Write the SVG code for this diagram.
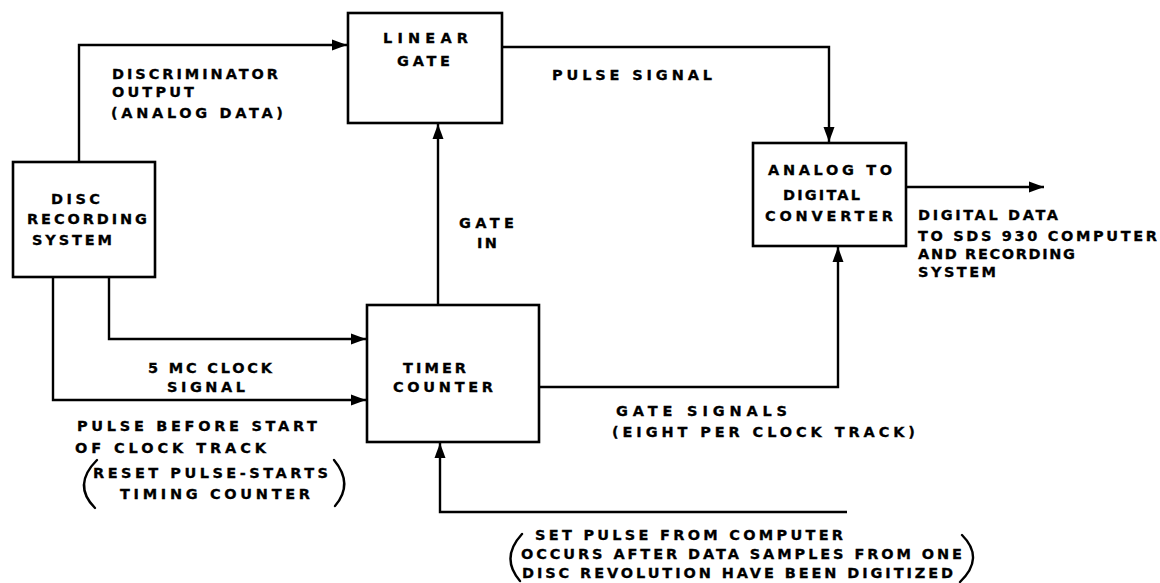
<svg xmlns="http://www.w3.org/2000/svg" width="1160" height="583" viewBox="0 0 1160 583">
<style>
.box{fill:#fff;stroke:#000;stroke-width:2.6}
.ln{fill:none;stroke:#000;stroke-width:2.4}
.par{fill:none;stroke:#000;stroke-width:2.4;stroke-linecap:round}
text{font-family:"DejaVu Sans","Liberation Sans",Arial,sans-serif;font-weight:bold;font-size:14.5px;fill:#000;stroke:#000;stroke-width:0.3}
</style>
<defs>
<marker id="ah" markerUnits="userSpaceOnUse" markerWidth="16" markerHeight="12" refX="15" refY="6" orient="auto">
<path d="M0,0.5 L15,6 L0,11.5 Z" fill="#000"/>
</marker>
</defs>
<rect width="1160" height="583" fill="#fff"/>
<g id="connectors">
<path class="ln" d="M79,162 V45 H347" marker-end="url(#ah)"/>
<path class="ln" d="M502,47 H829 V142" marker-end="url(#ah)"/>
<path class="ln" d="M906,187 H1044" marker-end="url(#ah)"/>
<path class="ln" d="M438,305 V124" marker-end="url(#ah)"/>
<path class="ln" d="M109,277 V339 H366" marker-end="url(#ah)"/>
<path class="ln" d="M53,277 V400 H366" marker-end="url(#ah)"/>
<path class="ln" d="M539,387 H838 V247" marker-end="url(#ah)"/>
<path class="ln" d="M847,512 H440 V443" marker-end="url(#ah)"/>
</g>
<g id="disc">
<rect class="box" x="13" y="162" width="142" height="115"/>
<text x="51" y="204" textLength="49">DISC</text>
<text x="27" y="224" textLength="120">RECORDING</text>
<text x="32" y="245" textLength="80">SYSTEM</text>
</g>
<g id="linear-gate">
<rect class="box" x="348" y="13" width="154" height="110"/>
<text x="383" y="43" textLength="85">LINEAR</text>
<text x="397" y="66" textLength="53">GATE</text>
</g>
<g id="adc">
<rect class="box" x="753" y="143" width="153" height="103"/>
<text x="768" y="175" textLength="124">ANALOG TO</text>
<text x="783" y="200" textLength="77">DIGITAL</text>
<text x="765" y="221" textLength="128">CONVERTER</text>
</g>
<g id="timer-counter">
<rect class="box" x="367" y="305" width="172" height="137"/>
<text x="403" y="373" textLength="63">TIMER</text>
<text x="393" y="392" textLength="100">COUNTER</text>
</g>
<g id="labels">
<text x="112" y="79" textLength="166">DISCRIMINATOR</text>
<text x="112" y="97" textLength="82">OUTPUT</text>
<text x="111" y="118" textLength="172">(ANALOG DATA)</text>
<text x="552" y="80" textLength="160">PULSE SIGNAL</text>
<text x="918" y="220" textLength="140">DIGITAL DATA</text>
<text x="918" y="241" textLength="239">TO SDS 930 COMPUTER</text>
<text x="918" y="259" textLength="157">AND RECORDING</text>
<text x="918" y="277" textLength="78">SYSTEM</text>
<text x="459" y="228" textLength="55">GATE</text>
<text x="477" y="248" textLength="20">IN</text>
<text x="148" y="373" textLength="124">5 MC CLOCK</text>
<text x="167" y="392" textLength="78">SIGNAL</text>
<text x="77" y="431" textLength="240">PULSE BEFORE START</text>
<text x="75" y="453" textLength="191">OF CLOCK TRACK</text>
<text x="93" y="478" textLength="235">RESET PULSE-STARTS</text>
<text x="120" y="499" textLength="190">TIMING COUNTER</text>
<path class="par" d="M97,460 Q72,485 95,508"/>
<path class="par" d="M334,460 Q354,484 335,506"/>
<text x="616" y="416" textLength="171">GATE SIGNALS</text>
<text x="612" y="437" textLength="303">(EIGHT PER CLOCK TRACK)</text>
<text x="535" y="540" textLength="308">SET PULSE FROM COMPUTER</text>
<text x="521" y="559" textLength="441">OCCURS AFTER DATA SAMPLES FROM ONE</text>
<text x="522" y="578" textLength="431">DISC REVOLUTION HAVE BEEN DIGITIZED</text>
<path class="par" d="M522,534 Q500,558 520,581"/>
<path class="par" d="M962,535 Q985,558 960,582"/>
</g>
</svg>
